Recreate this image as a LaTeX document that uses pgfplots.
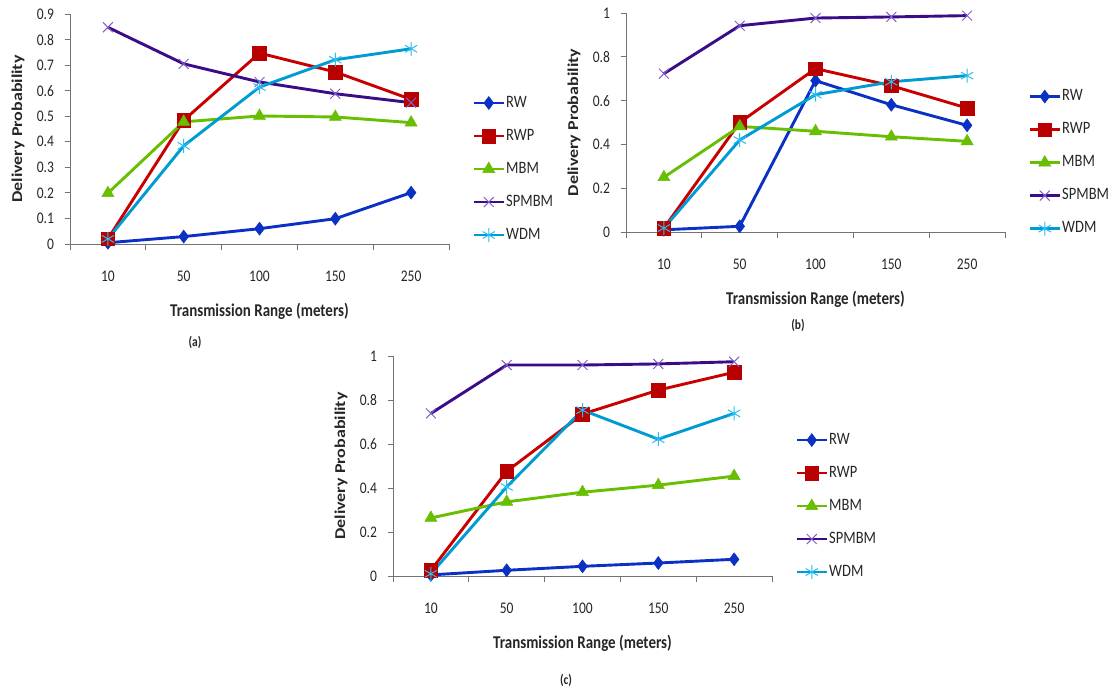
\documentclass[border=0pt]{standalone}
\usepackage{fontspec}
\setmainfont{Carlito}
\usepackage{graphicx}
\usepackage{pgfplots}
\pgfplotsset{compat=1.18}

\newcommand{\vs}[1]{\scalebox{1}[1.2]{#1}}

\definecolor{cRW}{RGB}{10,48,196}
\definecolor{cRWP}{RGB}{200,0,0}
\definecolor{cRWPm}{RGB}{185,0,0}
\definecolor{cMBM}{RGB}{104,190,0}
\definecolor{cSP}{RGB}{58,12,136}
\definecolor{cSPm}{RGB}{130,95,200}
\definecolor{cWDM}{RGB}{0,155,210}
\definecolor{cWDMm}{RGB}{40,190,240}
\definecolor{axisgray}{RGB}{115,115,115}

\pgfplotstableread{
x RW RWP MBM SPMBM WDM
0 0.005 0.020 0.199 0.848 0.020
1 0.029 0.484 0.478 0.705 0.384
2 0.060 0.747 0.501 0.634 0.614
3 0.099 0.673 0.497 0.588 0.721
4 0.201 0.566 0.475 0.553 0.764
}\tabA
\pgfplotstableread{
x RW RWP MBM SPMBM WDM
0 0.010 0.018 0.250 0.723 0.018
1 0.026 0.500 0.482 0.942 0.420
2 0.691 0.746 0.460 0.977 0.627
3 0.581 0.668 0.435 0.982 0.686
4 0.487 0.566 0.414 0.988 0.714
}\tabB
\pgfplotstableread{
x RW RWP MBM SPMBM WDM
0 0.005 0.026 0.264 0.739 0.010
1 0.026 0.476 0.337 0.959 0.405
2 0.044 0.736 0.381 0.959 0.754
3 0.059 0.845 0.413 0.964 0.622
4 0.076 0.926 0.454 0.974 0.739
}\tabC

\pgfplotsset{
  sRW/.style={color=cRW, line width=2.9pt, mark=diamond*, mark size=6.5pt, mark options={fill=cRW, draw=cRW, line width=0.5pt}},
  sRWP/.style={color=cRWP, line width=2.9pt, mark=square*, mark size=6.8pt, mark options={fill=cRWPm, draw=cRWPm, line width=0.5pt}},
  sMBM/.style={color=cMBM, line width=2.9pt, mark=triangle*, mark size=7pt, mark options={fill=cMBM, draw=cMBM, line width=0.5pt}},
  sSP/.style={color=cSP, line width=2.9pt, mark=x, mark size=7pt, mark options={draw=cSPm, line width=1pt}},
  sWDM/.style={color=cWDM, line width=2.9pt, mark=asterisk, mark size=7pt, mark options={draw=cWDMm, line width=1pt}},
  panel/.style={
    scale only axis, width=379pt, xmin=-0.5, xmax=4.5, ymin=0,
    clip=false,
    axis x line*=bottom, axis y line*=left,
    axis line style={draw=axisgray, line width=1pt},
    tick align=outside, major tick length=5.5pt,
    tick style={draw=axisgray, line width=0.9pt},
    xtick={-0.5,0.5,1.5,2.5,3.5,4.5}, xticklabels={},
    extra x ticks={0,1,2,3,4}, extra x tick labels={\vs{10},\vs{50},\vs{100},\vs{150},\vs{250}},
    extra x tick style={major tick length=0pt, tick style={draw=none}},
    /pgf/number format/assume math mode=true,
    /pgf/number format/fixed, /pgf/number format/precision=1,
    yticklabel={\vs{\pgfmathprintnumber{\tick}}},
    ticklabel style={font=\fontsize{13.5}{15}\selectfont, text=black!85},
    xticklabel style={yshift=-23pt},
    yticklabel style={xshift=-7pt},
    xlabel={\vs{Transmission Range (meters)}},
    ylabel={\scalebox{1.2}[1]{Delivery Probability}},
    every axis x label/.style={at={(axis description cs:0.5,0)}, anchor=center, yshift=-67pt, font=\bfseries\fontsize{15}{17}\selectfont, text=black!85},
    every axis y label/.style={at={([xshift=-52pt]axis description cs:0,0.5)}, rotate=90, anchor=center, font=\bfseries\fontsize{15}{17}\selectfont, text=black!85},
    legend cell align=left,
    legend image code/.code={\draw[mark repeat=2, mark phase=2, #1] plot coordinates {(0pt,0pt) (15pt,0pt) (30pt,0pt)};},
    legend style={anchor=west, draw=none, fill=none, inner sep=0pt, row sep=17pt,
      font=\fontsize{14.5}{16}\selectfont, text=black!85,
      nodes={inner sep=1pt, text height=11pt, text depth=3pt}},
  }
}

\begin{document}
\begin{tikzpicture}
\path[use as bounding box] (0pt,0pt) rectangle (1110pt,689pt);

% (a)
\begin{axis}[panel, at={(70pt,445pt)}, anchor=south west, height=230pt,
  ymax=0.9, ytick={0,0.1,...,0.9},
  legend style={at={(1.061,0.326)}}]
\addplot[sRW] table[x=x,y=RW]{\tabA}; \addlegendentry{\vs{RW}}
\addplot[sRWP] table[x=x,y=RWP]{\tabA}; \addlegendentry{\vs{RWP}}
\addplot[sMBM] table[x=x,y=MBM]{\tabA}; \addlegendentry{\vs{MBM}}
\addplot[sSP] table[x=x,y=SPMBM]{\tabA}; \addlegendentry{\vs{SPMBM}}
\addplot[sWDM] table[x=x,y=WDM]{\tabA}; \addlegendentry{\vs{WDM}}
\end{axis}

% (b)
\begin{axis}[panel, at={(626pt,457pt)}, anchor=south west, height=219pt,
  ymax=1, ytick={0,0.2,0.4,0.6,0.8,1},
  legend style={at={(1.061,0.317)}}]
\addplot[sRW] table[x=x,y=RW]{\tabB}; \addlegendentry{\vs{RW}}
\addplot[sRWP] table[x=x,y=RWP]{\tabB}; \addlegendentry{\vs{RWP}}
\addplot[sMBM] table[x=x,y=MBM]{\tabB}; \addlegendentry{\vs{MBM}}
\addplot[sSP] table[x=x,y=SPMBM]{\tabB}; \addlegendentry{\vs{SPMBM}}
\addplot[sWDM] table[x=x,y=WDM]{\tabB}; \addlegendentry{\vs{WDM}}
\end{axis}

% (c)
\begin{axis}[panel, at={(393pt,113pt)}, anchor=south west, height=220pt,
  ymax=1, ytick={0,0.2,0.4,0.6,0.8,1},
  legend style={at={(1.061,0.318)}}]
\addplot[sRW] table[x=x,y=RW]{\tabC}; \addlegendentry{\vs{RW}}
\addplot[sRWP] table[x=x,y=RWP]{\tabC}; \addlegendentry{\vs{RWP}}
\addplot[sMBM] table[x=x,y=MBM]{\tabC}; \addlegendentry{\vs{MBM}}
\addplot[sSP] table[x=x,y=SPMBM]{\tabC}; \addlegendentry{\vs{SPMBM}}
\addplot[sWDM] table[x=x,y=WDM]{\tabC}; \addlegendentry{\vs{WDM}}
\end{axis}

\node[font=\bfseries\fontsize{11.5}{13}\selectfont, text=black!85] at (195pt,347pt) {\vs{(a)}};
\node[font=\bfseries\fontsize{11.5}{13}\selectfont, text=black!85] at (798pt,364pt) {\vs{(b)}};
\node[font=\bfseries\fontsize{11.5}{13}\selectfont, text=black!85] at (566pt,9pt) {\vs{(c)}};
\end{tikzpicture}
\end{document}
